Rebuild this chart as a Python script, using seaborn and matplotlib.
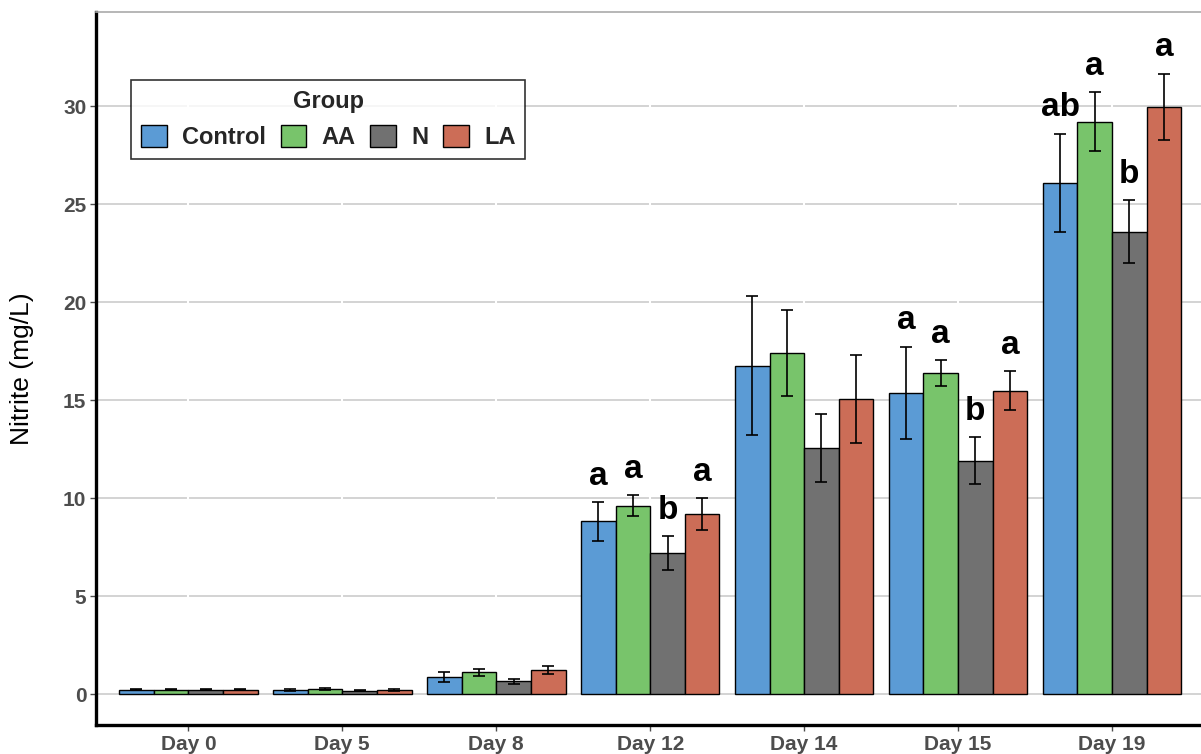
import numpy as np
import pandas as pd
import matplotlib
matplotlib.use("Agg")
import matplotlib.pyplot as plt
import seaborn as sns

# Nitrite concentration (mean ± error) per sampling day and treatment group
days = ["Day 0", "Day 5", "Day 8", "Day 12", "Day 14", "Day 15", "Day 19"]
groups = ["Control", "AA", "N", "LA"]

control_mean = [0.22, 0.22, 0.88, 8.81, 16.75, 15.37, 26.09]
aa_mean      = [0.22, 0.27, 1.10, 9.61, 17.40, 16.39, 29.20]
n_mean       = [0.22, 0.18, 0.65, 7.19, 12.57, 11.90, 23.60]
la_mean      = [0.22, 0.21, 1.22, 9.18, 15.05, 15.48, 29.96]

control_err = [0.02, 0.04, 0.26, 1.00, 3.55, 2.35, 2.50]
aa_err      = [0.02, 0.04, 0.19, 0.54, 2.20, 0.66, 1.50]
n_err       = [0.02, 0.02, 0.13, 0.88, 1.73, 1.20, 1.60]
la_err      = [0.02, 0.03, 0.19, 0.83, 2.26, 1.00, 1.70]

# Significance letters (empty where no letters are shown)
control_sig = ["", "", "", "a", "", "a", "ab"]
aa_sig      = ["", "", "", "a", "", "a", "a"]
n_sig       = ["", "", "", "b", "", "b", "b"]
la_sig      = ["", "", "", "a", "", "a", "a"]

palette = {"Control": "#5B9BD5", "AA": "#78C46B", "N": "#717171", "LA": "#CC6D57"}

means = {"Control": control_mean, "AA": aa_mean, "N": n_mean, "LA": la_mean}
errs = {"Control": control_err, "AA": aa_err, "N": n_err, "LA": la_err}
sigs = {"Control": control_sig, "AA": aa_sig, "N": n_sig, "LA": la_sig}

df = pd.DataFrame(
    [(d, g, means[g][i], errs[g][i], sigs[g][i])
     for g in groups for i, d in enumerate(days)],
    columns=["Day", "Group", "Nitrite", "Err", "Sig"],
)

sns.set_theme(style="white")
plt.rcParams["font.family"] = ["Liberation Sans", "DejaVu Sans"]

fig = plt.figure(figsize=(12.01, 7.54), dpi=100)
ax = fig.add_axes([96 / 1201, 29 / 754, 1 - 96 / 1201, (725 - 12) / 754])

sns.barplot(
    data=df, x="Day", y="Nitrite", hue="Group",
    order=days, hue_order=groups, palette=palette, saturation=1,
    width=0.9, edgecolor="black", linewidth=1.0,
    errorbar=None, ax=ax, zorder=2,
)

# Error bars and letters on top of each bar
for g, cont in zip(groups, ax.containers):
    for i, bar in enumerate(cont):
        xc = bar.get_x() + bar.get_width() / 2
        m, e, s = means[g][i], errs[g][i], sigs[g][i]
        ax.errorbar(xc, m, yerr=e, color="black", capsize=4.5,
                    elinewidth=1.2, capthick=1.2, zorder=3)
        if s:
            ax.text(xc, m + e + 0.88, s, ha="center", va="baseline",
                    fontsize=24, fontweight="bold", color="black", zorder=4)

ax.set_xlim(-0.6, (1201 - 188) / 154)
ax.set_ylim(-1.58, 34.8)
ax.set_yticks([0, 5, 10, 15, 20, 25, 30])

# Horizontal grid, interrupted by thin white lines at each day position
ax.set_axisbelow(True)
ax.yaxis.grid(True, color="#CCCCCC", linewidth=1.2)
ax.xaxis.grid(False)
for k in range(len(days)):
    ax.axvline(k, color="white", linewidth=1.5, zorder=1)

ax.spines["right"].set_visible(False)
ax.spines["top"].set_color("#AAAAAA")
ax.spines["top"].set_linewidth(1.2)
ax.spines["left"].set_color("black")
ax.spines["left"].set_linewidth(2.4)
ax.spines["bottom"].set_color("black")
ax.spines["bottom"].set_linewidth(2.4)

ax.tick_params(axis="both", which="major", length=4, width=1.0,
               color="#4D4D4D", labelcolor="#4D4D4D", labelsize=15,
               left=True, bottom=True, pad=3)
for lab in ax.get_xticklabels() + ax.get_yticklabels():
    lab.set_fontweight("bold")

ax.set_xlabel("")
ax.set_ylabel("Nitrite (mg/L)", fontsize=19, color="black", labelpad=21)

leg = ax.get_legend()
handles = leg.legend_handles
leg.remove()
legend = fig.legend(
    handles, groups, title="Group", ncol=4,
    loc="upper left", bbox_to_anchor=(131 / 1201, 1 - 80 / 754),
    borderaxespad=0.0,
    frameon=True, fancybox=False, edgecolor="black",
    prop={"size": 17, "weight": "bold"},
    title_fontproperties={"size": 17, "weight": "bold"},
    handlelength=1.1, handleheight=1.1, handletextpad=0.63,
    columnspacing=0.63, borderpad=0.42, labelspacing=0.5,
)
legend.get_frame().set_linewidth(1.2)
for h in legend.legend_handles:
    h.set_edgecolor("black")
    h.set_linewidth(1.0)

fig.savefig("out.png", dpi=100)
